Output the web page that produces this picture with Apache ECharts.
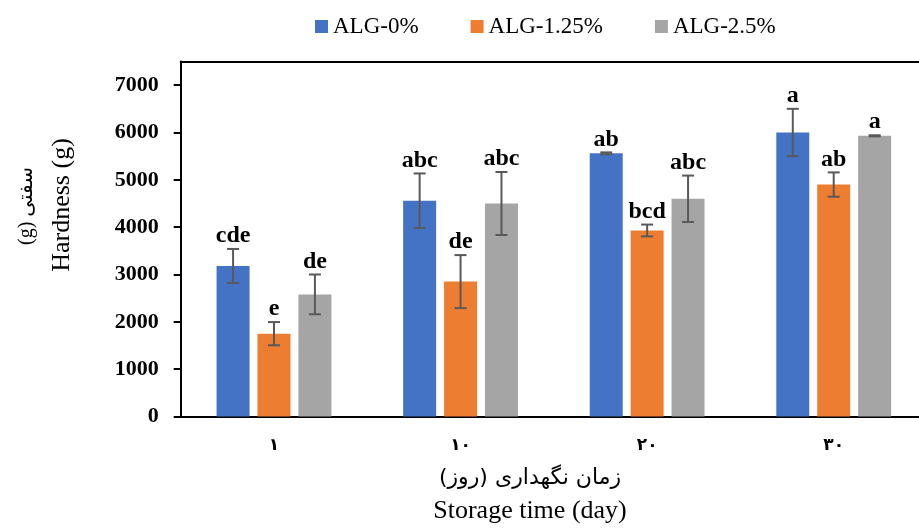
<!DOCTYPE html>
<html>
<head>
<meta charset="utf-8">
<script src="https://cdn.jsdelivr.net/npm/echarts@6/dist/echarts.min.js"></script>
<style>html,body{margin:0;padding:0;background:#fff;overflow:hidden}#c{width:927px;height:529px}</style>
</head>
<body>
<div id="c"></div>
<script>
// ---- data ----
var categories = ['۱', '۱۰', '۲۰', '۳۰'];
var seriesNames = ['ALG-0%', 'ALG-1.25%', 'ALG-2.5%'];
var alg0 = [3180, 4560, 5560, 6000];
var alg125 = [1750, 2850, 3930, 4900];
var alg25 = [2580, 4500, 4600, 5930];
var err0 = [360, 575, 20, 500];
var err125 = [245, 560, 125, 257];
var err25 = [420, 665, 490, 12];
var letters0 = ['cde', 'abc', 'ab', 'a'];
var letters125 = ['e', 'de', 'bcd', 'ab'];
var letters25 = ['de', 'abc', 'abc', 'a'];
var yTicks = [0, 1000, 2000, 3000, 4000, 5000, 6000, 7000];
var yMax = 7500;

// ---- styling ----
var colors = ['#4472C4', '#ED7D31', '#A5A5A5'];
var SERIF = '"Liberation Serif", "Times New Roman", "DejaVu Serif", "DejaVu Sans"';
var BAR_W = 33, BAR_GAP = 0.24;

var values = [alg0, alg125, alg25];
var errs = [err0, err125, err25];
var letters = [letters0, letters125, letters25];

var chart = echarts.init(document.getElementById('c'), null, {renderer: 'canvas'});

var series = [];
values.forEach(function (v, i) {
  series.push({
    name: seriesNames[i], type: 'bar', data: v,
    barWidth: BAR_W, barGap: (BAR_GAP * 100) + '%',
    itemStyle: {color: colors[i]}, z: 2
  });
});
values.forEach(function (v, i) {
  var data = v.map(function (val, k) { return [k, val - errs[i][k], val + errs[i][k], letters[i][k]]; });
  series.push({
    type: 'custom', name: seriesNames[i] + '-err', coordinateSystem: 'cartesian2d',
    data: data, z: 5, silent: true,
    encode: {x: 0, y: [1, 2]},
    renderItem: function (params, api) {
      var k = api.value(0);
      var lo = api.coord([k, api.value(1)]);
      var hi = api.coord([k, api.value(2)]);
      var off = (i - 1) * BAR_W * (1 + BAR_GAP);
      var x = lo[0] + off;
      var cap = 6;
      var ls = {stroke: '#595959', lineWidth: 2};
      return {
        type: 'group',
        children: [
          {type: 'line', shape: {x1: x, y1: lo[1], x2: x, y2: hi[1]}, style: ls},
          {type: 'line', shape: {x1: x - cap, y1: lo[1], x2: x + cap, y2: lo[1]}, style: ls},
          {type: 'line', shape: {x1: x - cap, y1: hi[1], x2: x + cap, y2: hi[1]}, style: ls},
          {type: 'text', style: {text: data[params.dataIndex][3], x: x, y: hi[1] - 1,
            align: 'center', verticalAlign: 'bottom', fill: '#000',
            font: 'bold 24px ' + SERIF}}
        ]
      };
    }
  });
});

chart.setOption({
  animation: false,
  backgroundColor: '#fff',
  color: colors,
  legend: {
    data: seriesNames, left: 310, top: 10, icon: 'rect', itemWidth: 13, itemHeight: 13,
    itemGap: 52,
    textStyle: {fontFamily: SERIF, fontSize: 23, color: '#000', padding: [0, 0, 0, 0]}
  },
  grid: {left: 180.7, right: 0, top: 61.5, bottom: 112.5, containLabel: false},
  xAxis: [{
    type: 'category', data: categories,
    axisLine: {lineStyle: {color: '#000', width: 2}},
    axisTick: {alignWithLabel: true, length: 6, lineStyle: {color: '#000', width: 2}},
    axisLabel: {fontFamily: '"DejaVu Sans"', fontSize: 17, fontWeight: 'bold', color: '#000', margin: 21}
  }, {
    type: 'category', data: categories, position: 'top',
    axisLine: {show: true, onZero: false, lineStyle: {color: '#000', width: 2}},
    axisTick: {show: false}, axisLabel: {show: false}
  }],
  yAxis: {
    type: 'value', min: 0, max: yMax, interval: 500,
    splitLine: {show: false},
    axisLine: {show: true, lineStyle: {color: '#000', width: 2}},
    axisTick: {show: true, length: 7, customValues: yTicks, lineStyle: {color: '#000', width: 2}},
    axisLabel: {customValues: yTicks, formatter: function (v) { return String(v); },
      fontFamily: SERIF, fontSize: 22, fontWeight: 'bold', color: '#000', margin: 22}
  },
  graphic: [
    {type: 'text', x: 530, y: 478, style: {text: 'زمان نگهداری (روز)', font: '22px "DejaVu Sans"', fill: '#000', align: 'center', verticalAlign: 'middle'}},
    {type: 'text', x: 530, y: 511, style: {text: 'Storage time (day)', font: '26px ' + SERIF, fill: '#000', align: 'center', verticalAlign: 'middle'}},
    {type: 'text', x: 62, y: 205, rotation: Math.PI / 2, style: {text: 'Hardness (g)', font: '26px ' + SERIF, fill: '#000', align: 'center', verticalAlign: 'middle'}},
    {type: 'text', x: 27, y: 206, rotation: Math.PI / 2, style: {text: '(g) سفتی', font: '20px ' + SERIF, fill: '#000', align: 'center', verticalAlign: 'middle'}}
  ],
  series: series
});
</script>
</body>
</html>
